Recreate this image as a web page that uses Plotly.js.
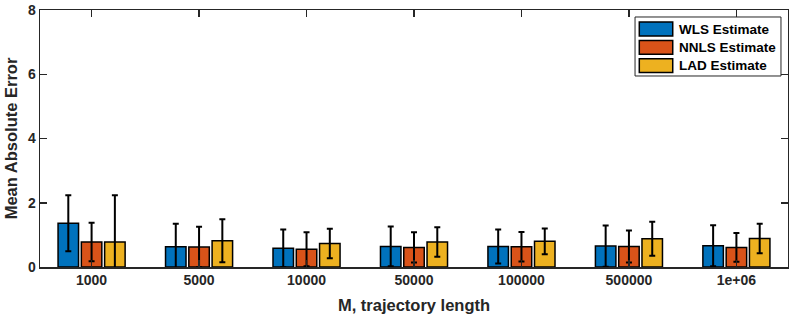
<!DOCTYPE html>
<html>
<head>
<meta charset="utf-8">
<script src="https://cdn.plot.ly/plotly-3.0.1.min.js"></script>
<style>html,body{margin:0;padding:0;background:#fff;}#chart{width:789px;height:316px;}</style>
</head>
<body>
<div id="chart"></div>
<script>
var categories = ['1000', '5000', '10000', '50000', '100000', '500000', '1e+06'];
var wlsMean  = [1.36, 0.63, 0.58, 0.64, 0.64, 0.65, 0.66];
var wlsErr   = [0.87, 0.72, 0.59, 0.62, 0.53, 0.64, 0.64];
var nnlsMean = [0.78, 0.62, 0.55, 0.61, 0.63, 0.64, 0.61];
var nnlsErr  = [0.60, 0.63, 0.53, 0.47, 0.46, 0.50, 0.45];
var ladMean  = [0.78, 0.82, 0.73, 0.78, 0.80, 0.88, 0.89];
var ladErr   = [1.45, 0.67, 0.46, 0.46, 0.40, 0.53, 0.46];
var seriesNames = ['WLS Estimate', 'NNLS Estimate', 'LAD Estimate'];
var seriesColors = ['#0072BD', '#D95319', '#EDB120'];

var means = [wlsMean, nnlsMean, ladMean];
var errs = [wlsErr, nnlsErr, ladErr];
var FONT = 'Liberation Sans, Arial, Helvetica, sans-serif';
var AX = '#262626';

var traces = means.map(function (m, i) {
  return {
    type: 'bar',
    name: seriesNames[i],
    x: categories,
    y: m,
    showlegend: false,
    marker: { color: seriesColors[i], line: { color: '#000', width: 1.5 } },
    error_y: { type: 'data', array: errs[i], visible: true, color: '#000', thickness: 2, width: 3 }
  };
});

// custom legend (paper coordinates)
var shapes = [{
  type: 'rect', xref: 'paper', yref: 'paper',
  x0: 0.7955, x1: 0.9906, y0: 0.7432, y1: 0.9728,
  fillcolor: '#fff', line: { color: '#262626', width: 1 }, layer: 'above'
}];
var annotations = [];
seriesNames.forEach(function (n, i) {
  var yc = 0.926 - i * 0.0712;
  shapes.push({
    type: 'rect', xref: 'paper', yref: 'paper',
    x0: 0.8012, x1: 0.8459, y0: yc - 0.027, y1: yc + 0.027,
    fillcolor: seriesColors[i], line: { color: '#000', width: 1.5 }, layer: 'above'
  });
  annotations.push({
    xref: 'paper', yref: 'paper', x: 0.8516, y: yc, xanchor: 'left', yanchor: 'middle',
    text: n, showarrow: false,
    font: { family: FONT, size: 13.5, color: '#000', weight: 'bold' }
  });
});

var layout = {
  width: 789, height: 316,
  margin: { l: 40, r: 1, t: 10, b: 49 },
  paper_bgcolor: '#fff', plot_bgcolor: '#fff',
  barmode: 'group', bargap: 0.35, bargroupgap: 0.12,
  font: { family: FONT, color: AX, size: 14, weight: 'bold' },
  showlegend: false,
  shapes: shapes,
  annotations: annotations,
  xaxis: {
    type: 'category', range: [-0.48, 6.48],
    showline: true, linecolor: AX, linewidth: 1.5, mirror: 'ticks',
    ticks: 'inside', ticklen: 7, tickwidth: 1.5, tickcolor: AX,
    showgrid: false, zeroline: false,
    tickfont: { family: FONT, size: 14, color: AX, weight: 'bold' },
    title: { text: 'M, trajectory length', font: { family: FONT, size: 16.5, color: AX, weight: 'bold' }, standoff: 12 }
  },
  yaxis: {
    range: [0, 8], tickvals: [0, 2, 4, 6, 8],
    showline: true, linecolor: AX, linewidth: 1.5, mirror: 'ticks',
    ticks: 'inside', ticklen: 7, tickwidth: 1.5, tickcolor: AX,
    showgrid: false, zeroline: false,
    tickfont: { family: FONT, size: 14, color: AX, weight: 'bold' },
    title: { text: 'Mean Absolute Error', font: { family: FONT, size: 16.5, color: AX, weight: 'bold' }, standoff: 6 }
  }
};

Plotly.newPlot('chart', traces, layout, { displayModeBar: false, staticPlot: true });
</script>
</body>
</html>
